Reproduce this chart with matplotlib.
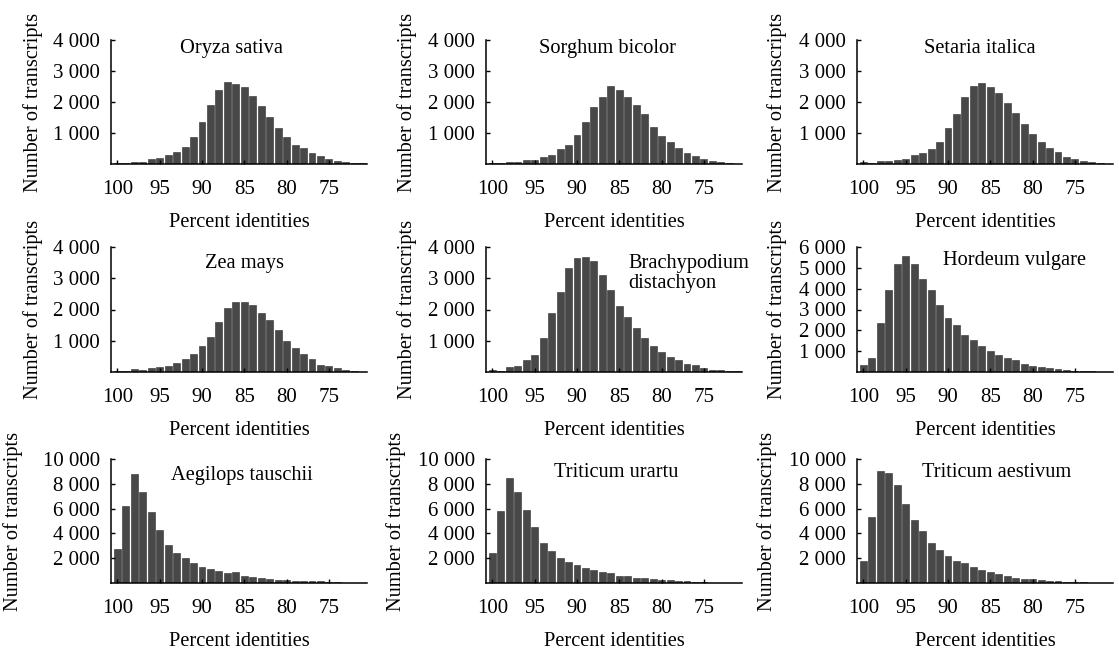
import numpy as np
import matplotlib.pyplot as plt

plt.rcParams['font.family'] = ['Liberation Serif', 'DejaVu Serif']
plt.rcParams['font.size'] = 14.7

# percent identity bins, 100 down to 71
identity = list(range(100, 70, -1))

oryza = [30, 30, 80, 80, 170, 180, 300, 400, 560, 880, 1350, 1900, 2400, 2630, 2580,
         2480, 2180, 1860, 1530, 1150, 870, 610, 510, 350, 270, 170, 110, 50, 30, 20]
sorghum = [20, 20, 50, 50, 120, 120, 240, 290, 480, 620, 920, 1350, 1830, 2160, 2520,
           2390, 2150, 1890, 1600, 1200, 900, 700, 520, 350, 250, 160, 100, 70, 20, 10]
setaria = [60, 30, 90, 90, 130, 160, 290, 350, 500, 720, 1170, 1600, 2170, 2520, 2610,
           2480, 2280, 1960, 1630, 1290, 960, 710, 510, 400, 240, 170, 110, 60, 30, 10]
zea = [40, 40, 100, 60, 120, 150, 180, 290, 420, 580, 820, 1120, 1590, 2060, 2240,
       2230, 2160, 1880, 1650, 1330, 1000, 760, 580, 430, 230, 190, 120, 60, 30, 10]
brachy = [80, 40, 150, 190, 370, 560, 1080, 1880, 2560, 3320, 3650, 3680, 3550, 3100, 2610,
          2110, 1760, 1400, 1100, 820, 640, 490, 370, 250, 210, 120, 70, 60, 30, 20]
hordeum = [360, 680, 2330, 3940, 5200, 5550, 5200, 4450, 3940, 3220, 2610, 2240, 1790, 1520, 1250,
           1010, 840, 650, 560, 380, 310, 240, 180, 130, 110, 70, 50, 40, 20, 10]
aegilops = [2750, 6200, 8800, 7300, 5700, 4300, 3100, 2400, 1980, 1590, 1330, 1150, 960, 800, 850,
            600, 470, 400, 350, 280, 240, 200, 180, 150, 140, 110, 60, 40, 20, 10]
urartu = [2400, 5800, 8500, 7300, 5850, 4550, 3250, 2600, 2000, 1720, 1420, 1250, 1030, 900, 770,
          600, 540, 420, 370, 310, 240, 210, 170, 140, 90, 80, 40, 30, 20, 10]
aestivum = [1780, 5350, 9000, 8900, 7900, 6400, 5100, 4200, 3250, 2700, 2200, 1800, 1600, 1300, 1050,
            850, 700, 560, 430, 350, 300, 250, 180, 140, 100, 70, 50, 30, 20, 10]

xticks = [100, 95, 90, 85, 80, 75]

# (name, values, y max, y ticks, title x, title y, title align)
panels = [
    ("Oryza sativa", oryza, 4000, [1000, 2000, 3000, 4000], 0.47, 0.93, 'center'),
    ("Sorghum bicolor", sorghum, 4000, [1000, 2000, 3000, 4000], 0.475, 0.93, 'center'),
    ("Setaria italica", setaria, 4000, [1000, 2000, 3000, 4000], 0.48, 0.93, 'center'),
    ("Zea mays", zea, 4000, [1000, 2000, 3000, 4000], 0.52, 0.87, 'center'),
    ("Brachypodium\ndistachyon", brachy, 4000, [1000, 2000, 3000, 4000], 0.556, 0.79, 'left'),
    ("Hordeum vulgare", hordeum, 6000, [1000, 2000, 3000, 4000, 5000, 6000], 0.615, 0.89, 'center'),
    ("Aegilops tauschii", aegilops, 10000, [2000, 4000, 6000, 8000, 10000], 0.51, 0.87, 'center'),
    ("Triticum urartu", urartu, 10000, [2000, 4000, 6000, 8000, 10000], 0.51, 0.89, 'center'),
    ("Triticum aestivum", aestivum, 10000, [2000, 4000, 6000, 8000, 10000], 0.545, 0.89, 'center'),
]

W, H = 1119, 652
lefts = [111, 486, 857]
tops = [40, 247, 459]
bottoms = [164, 372, 583]
ylab_x = [[-0.264, -0.27, -0.274],
          [-0.264, -0.27, -0.274],
          [-0.342, -0.313, -0.313]]

fig = plt.figure(figsize=(W / 100, H / 100), dpi=100)

for k, (name, vals, ymax, yt, tx, ty, ha) in enumerate(panels):
    r, c = divmod(k, 3)
    ax = fig.add_axes([lefts[c] / W, 1 - bottoms[r] / H, 256 / W, (bottoms[r] - tops[r]) / H])
    ax.bar(identity, vals, width=0.82, color='#484848', edgecolor='#2e2e2e', linewidth=0.4)
    ax.set_xlim(100.75, 70.5)
    ax.set_ylim(0, ymax)
    ax.set_xticks(xticks)
    ax.set_yticks(yt)
    ax.set_yticklabels([f"{v:,}".replace(",", " ") for v in yt])
    for s in ['top', 'right']:
        ax.spines[s].set_visible(False)
    for s in ['left', 'bottom']:
        ax.spines[s].set_linewidth(1.1)
    ax.tick_params(axis='y', direction='in', length=3, width=1, pad=8, labelsize=15)
    ax.tick_params(axis='x', direction='in', length=3, width=1, pad=11.5, labelsize=15)
    ax.set_xlabel("Percent identities", fontsize=14.7, labelpad=10)
    ax.set_ylabel("Number of transcripts", fontsize=14.7)
    ax.yaxis.set_label_coords(ylab_x[r][c], 0.5)
    ax.text(tx, ty, name, transform=ax.transAxes, ha=ha, va='center', fontsize=14.7,
            linespacing=1.1)

fig.savefig("out.png", dpi=100)
